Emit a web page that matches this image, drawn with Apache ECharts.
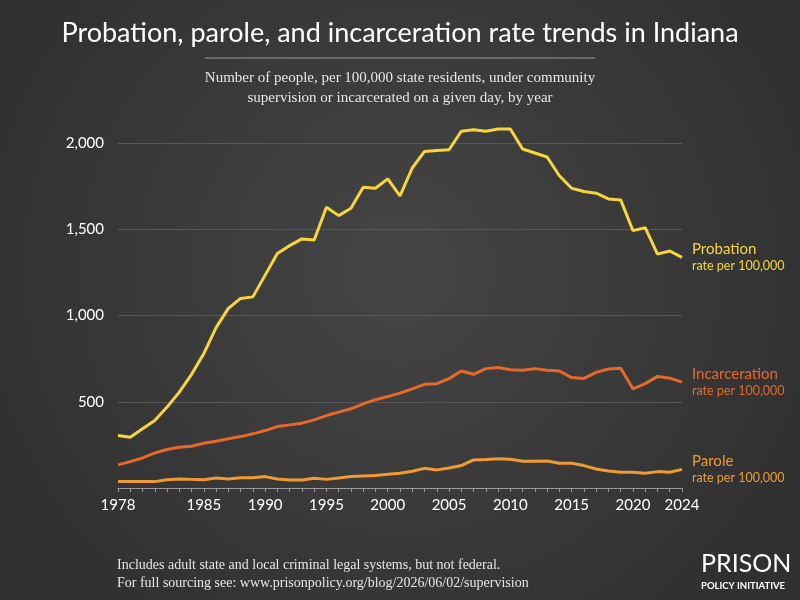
<!DOCTYPE html>
<html>
<head>
<meta charset="utf-8">
<script src="https://cdn.jsdelivr.net/npm/echarts@6/dist/echarts.min.js"></script>
<style>
  html, body { margin: 0; padding: 0; background: #3a3a3a; }
  #chart { width: 800px; height: 600px; }
</style>
</head>
<body>
<div id="chart"></div>
<script>
  // years 1978..2024
  const years = [];
  for (let y = 1978; y <= 2024; y++) years.push(String(y));

  const probation = [304, 294, 343, 391, 469, 556, 659, 779, 930, 1041,
    1099, 1108, 1234, 1360, 1405, 1444, 1438, 1628, 1579, 1622,
    1744, 1738, 1792, 1694, 1855, 1951, 1957, 1961, 2068, 2077,
    2068, 2081, 2081, 1965, 1942, 1919, 1810, 1738, 1719, 1709,
    1676, 1670, 1492, 1509, 1356, 1374, 1337];

  const incarceration = [134, 153, 174, 203, 223, 236, 242, 259, 271, 285,
    298, 314, 333, 356, 366, 376, 395, 420, 440, 459,
    488, 512, 530, 550, 575, 601, 605, 634, 678, 659,
    692, 699, 686, 682, 692, 682, 678, 640, 635, 670,
    690, 694, 575, 605, 647, 637, 614];

  const parole = [38, 38, 37, 37, 48, 52, 50, 48, 58, 52,
    60, 60, 66, 52, 46, 46, 56, 50, 58, 66,
    70, 73, 80, 86, 97, 114, 105, 116, 130, 163,
    165, 169, 167, 155, 155, 157, 143, 143, 130, 110,
    99, 91, 91, 85, 95, 91, 108];

  const shownYears = ['1978', '1985', '1990', '1995', '2000', '2005', '2010', '2015', '2020', '2024'];

  const chart = echarts.init(document.getElementById('chart'));

  function lineSeries(name, data, color) {
    return {
      name: name,
      type: 'line',
      data: data,
      symbol: 'none',
      clip: false,
      lineStyle: { width: 3, color: color },
      itemStyle: { color: color },
      endLabel: {
        show: true,
        distance: 10,
        formatter: '{a|' + name + '}\n{b|rate per 100,000}',
        rich: {
          a: { fontFamily: 'Lato', fontSize: 15, color: color, lineHeight: 18 },
          b: { fontFamily: 'Lato', fontSize: 12.5, color: color, lineHeight: 16 }
        }
      }
    }
  }

  chart.setOption({
    backgroundColor: new echarts.graphic.RadialGradient(0.5, 0.45, 0.75, [
      { offset: 0, color: '#454545' },
      { offset: 1, color: '#303030' }
    ]),
    animation: false,
    title: {
      text: 'Probation, parole, and incarceration rate trends in Indiana',
      left: 'center',
      top: 15,
      textStyle: { fontFamily: 'Lato', fontWeight: 'normal', fontSize: 27, color: '#ffffff' }
    },
    graphic: [
      {
        type: 'line',
        shape: { x1: 205, y1: 58, x2: 595, y2: 58 },
        style: { stroke: '#9a9a9a', lineWidth: 1 }
      },
      {
        type: 'text',
        x: 400,
        y: 68,
        style: {
          text: 'Number of people, per 100,000 state residents, under community\nsupervision or incarcerated on a given day, by year',
          fontFamily: 'Liberation Serif',
          fontSize: 15,
          lineHeight: 20,
          fill: '#e6e6e6',
          align: 'center',
          verticalAlign: 'top'
        }
      },
      {
        type: 'text',
        left: 117,
        top: 556,
        style: {
          text: 'Includes adult state and local criminal legal systems, but not federal.\nFor full sourcing see: www.prisonpolicy.org/blog/2026/06/02/supervision',
          fontFamily: 'Liberation Serif',
          fontSize: 14,
          lineHeight: 18,
          fill: '#e6e6e6'
        }
      },
      {
        type: 'text',
        left: 701,
        top: 551,
        style: {
          text: 'PRISON',
          fontFamily: 'Lato',
          fontSize: 25,
          fill: '#ffffff'
        }
      },
      {
        type: 'text',
        left: 701,
        top: 581,
        style: {
          text: 'POLICY INITIATIVE',
          fontFamily: 'Lato',
          fontWeight: 'bold',
          fontSize: 9.5,
          fill: '#ffffff'
        }
      }
    ],
    grid: {
      left: 118,
      right: 118,
      top: 143,
      bottom: 112
    },
    xAxis: {
      type: 'category',
      data: years,
      boundaryGap: false,
      axisLine: { lineStyle: { color: '#9a9a9a', width: 1 } },
      axisTick: {
        show: true,
        interval: 0,
        length: 4,
        lineStyle: { color: '#9a9a9a' }
      },
      axisLabel: {
        interval: function (idx, val) { return shownYears.indexOf(val) >= 0; },
        color: '#ffffff',
        fontFamily: 'Lato',
        fontSize: 15,
        margin: 10
      }
    },
    yAxis: {
      type: 'value',
      min: 0,
      max: 2000,
      interval: 500,
      axisLine: { show: false },
      axisTick: { show: false },
      axisLabel: {
        formatter: function (v) { return v === 0 ? '' : v.toLocaleString('en-US'); },
        color: '#ffffff',
        fontFamily: 'Lato',
        fontSize: 15,
        margin: 14
      },
      splitLine: { lineStyle: { color: '#575757', width: 1 } }
    },
    series: [
      lineSeries('Probation', probation, '#f7d53b'),
      lineSeries('Incarceration', incarceration, '#e5692b'),
      lineSeries('Parole', parole, '#f09b32')
    ]
  });
</script>
</body>
</html>
